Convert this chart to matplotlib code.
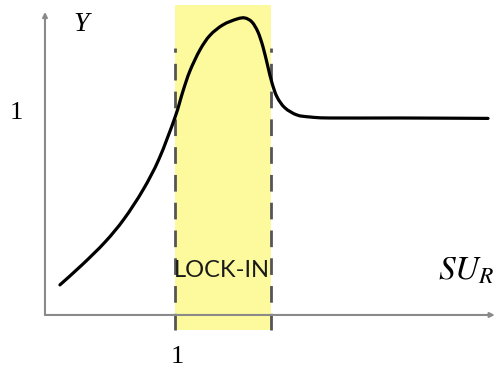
import matplotlib
matplotlib.use("Agg")
import matplotlib.pyplot as plt
import numpy as np
from matplotlib.path import Path
from matplotlib.patches import PathPatch

# Curve values (x in units of SU_R, y in units of Y)
x_vals = [0.115, 0.285, 0.462, 0.608, 0.754, 0.877, 1.000, 1.062, 1.115,
          1.192, 1.269, 1.369, 1.477, 1.538, 1.592, 1.638, 1.677, 1.715, 1.746,
          1.785, 1.846, 1.938, 2.038, 2.192, 2.731, 3.408]
y_vals = [0.149, 0.248, 0.361, 0.475, 0.619, 0.772, 0.978, 1.109, 1.208,
          1.312, 1.384, 1.436, 1.465, 1.470, 1.450, 1.401, 1.327, 1.228, 1.149,
          1.079, 1.025, 0.990, 0.980, 0.975, 0.975, 0.973]
lock_in = [1.0, 1.738]
x_tick_labels = ["1"]
y_tick_labels = ["1"]

fig = plt.figure(figsize=(4.97, 3.77), dpi=100)
ax = fig.add_axes([0, 0, 1, 1])
ax.set_xlim(-0.346, 3.477)
ax.set_ylim(-0.307, 1.559)
ax.axis("off")

# yellow band
ax.fill_between(lock_in, [-0.074, -0.074], [1.535, 1.535], color="#fcfa9c", lw=0, zorder=1)
# dashed boundaries
for xv in lock_in:
    ax.plot([xv, xv], [-0.074, 1.322], color="#555555", lw=2, dashes=(6, 4), zorder=2)

# axes with arrows
ax.annotate("", xy=(0, 1.50), xytext=(0, 0),
            arrowprops=dict(arrowstyle="-|>", color="#8a8a8a", lw=1.5, mutation_scale=7,
                            shrinkA=0, shrinkB=0), zorder=3)
ax.annotate("", xy=(3.46, 0), xytext=(0, 0),
            arrowprops=dict(arrowstyle="-|>", color="#8a8a8a", lw=1.5, mutation_scale=7,
                            shrinkA=0, shrinkB=0), zorder=3)

# smooth curve via Catmull-Rom -> Bezier
pts = np.column_stack([x_vals, y_vals])
verts = [tuple(pts[0])]
codes = [Path.MOVETO]
n = len(pts)
for i in range(n - 1):
    p0 = pts[i - 1] if i > 0 else pts[i]
    p1 = pts[i]
    p2 = pts[i + 1]
    p3 = pts[i + 2] if i + 2 < n else pts[i + 1]
    c1 = p1 + (p2 - p0) / 6.0
    c2 = p2 - (p3 - p1) / 6.0
    verts += [tuple(c1), tuple(c2), tuple(p2)]
    codes += [Path.CURVE4] * 3
ax.add_patch(PathPatch(Path(verts, codes), fill=False, edgecolor="black", lw=2.3,
                       capstyle="round", joinstyle="round", zorder=4))

serif = ["Liberation Serif", "DejaVu Serif"]
ax.text(-0.219, 1.0, y_tick_labels[0], fontsize=19, family=serif, ha="center", va="center")
ax.text(1.015, -0.21, x_tick_labels[0], fontsize=19, family=serif, ha="center", va="center")
ax.text(0.28, 1.44, "Y", fontsize=20, family=serif, style="italic", ha="center", va="center")
ax.text(3.02, 0.225, r"$\mathit{SU}_{\mathit{R}}$", fontsize=24, ha="left", va="center",
        math_fontfamily="stix")
ax.text(1.36, 0.218, "LOCK-IN", fontsize=17, family=["Lato", "DejaVu Sans"], ha="center",
        va="center", color="#1a1a1a", zorder=5)

fig.savefig("out.png", dpi=100)
